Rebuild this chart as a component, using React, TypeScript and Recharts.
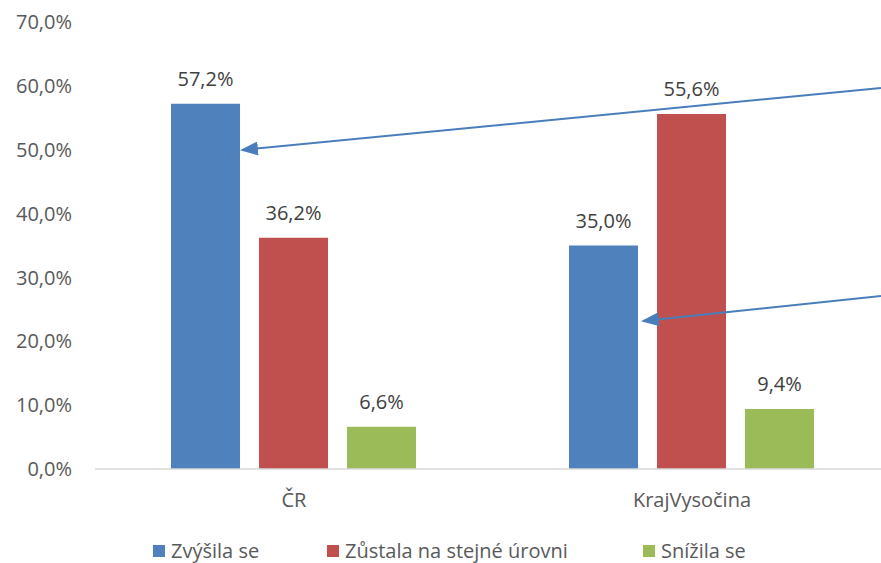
import { Bar, BarChart, LabelList, Legend, XAxis, YAxis } from 'recharts'

const categories = ['ČR', 'KrajVysočina']
const zvysila = [57.2, 35.0]
const zustala = [36.2, 55.6]
const snizila = [6.6, 9.4]
const yTicks = [0, 10, 20, 30, 40, 50, 60, 70]

const SERIES = [
  { key: 'zvysila', name: 'Zvýšila se', color: '#4f81bd' },
  { key: 'zustala', name: 'Zůstala na stejné úrovni', color: '#c0504d' },
  { key: 'snizila', name: 'Snížila se', color: '#9bbb59' },
]
const LEGEND_LEFT = [153, 327, 643]

const FONT = '"Open Sans", "Noto Sans", sans-serif'
const FS = 20
const pct = (v: number) => v.toFixed(1).replace('.', ',') + '%'

const data = categories.map((c, i) => ({
  cat: c,
  zvysila: zvysila[i],
  zustala: zustala[i],
  snizila: snizila[i],
}))

function LegendBox() {
  return (
    <div style={{ position: 'relative', height: 44, fontFamily: FONT, fontSize: FS, color: '#595959' }}>
      {SERIES.map((s, i) => (
        <div
          key={s.key}
          style={{ position: 'absolute', left: LEGEND_LEFT[i], top: 18, display: 'flex', alignItems: 'center', whiteSpace: 'nowrap' }}
        >
          <span style={{ width: 12, height: 12, background: s.color, marginRight: 6, display: 'inline-block' }} />
          <span>{s.name}</span>
        </div>
      ))}
    </div>
  )
}

export default function App() {
  return (
    <div style={{ position: 'absolute', left: 0, top: 0, width: 881, height: 563, background: '#fff', overflow: 'hidden' }}>
      <BarChart
        width={891}
        height={563}
        data={data}
        margin={{ top: 22, right: 0, bottom: 0, left: 0 }}
        barCategoryGap="19.1%"
        barGap={19}
      >
        <XAxis
          dataKey="cat"
          height={50}
          tickLine={false}
          tickSize={0}
          tickMargin={24}
          axisLine={{ stroke: '#d9d9d9', strokeWidth: 1.5 }}
          tick={{ fill: '#595959', fontSize: FS, fontFamily: FONT }}
        />
        <YAxis
          width={95}
          domain={[0, 70]}
          ticks={yTicks}
          tickFormatter={pct}
          axisLine={false}
          tickLine={false}
          tickSize={0}
          tickMargin={23}
          tick={{ fill: '#595959', fontSize: FS, fontFamily: FONT }}
        />
        <Legend verticalAlign="bottom" height={44} content={() => <LegendBox />} />
        {SERIES.map((s) => (
          <Bar key={s.key} dataKey={s.key} name={s.name} fill={s.color} isAnimationActive={false}>
            <LabelList
              dataKey={s.key}
              position="top"
              offset={18}
              formatter={(v: number) => pct(v)}
              style={{ fill: '#404040', fontSize: FS, fontFamily: FONT }}
            />
          </Bar>
        ))}
      </BarChart>
      <svg width={881} height={563} style={{ position: 'absolute', left: 0, top: 0, pointerEvents: 'none' }}>
        <defs>
          <marker id="ah" markerWidth="9" markerHeight="7" refX="8" refY="3.5" orient="auto" markerUnits="strokeWidth">
            <path d="M0,0 L9,3.5 L0,7 Z" fill="#4a7ebb" />
          </marker>
        </defs>
        <line x1={881} y1={88} x2={242} y2={150} stroke="#4a7ebb" strokeWidth={2} markerEnd="url(#ah)" />
        <line x1={881} y1={296} x2={643} y2={321} stroke="#4a7ebb" strokeWidth={2} markerEnd="url(#ah)" />
      </svg>
    </div>
  )
}
